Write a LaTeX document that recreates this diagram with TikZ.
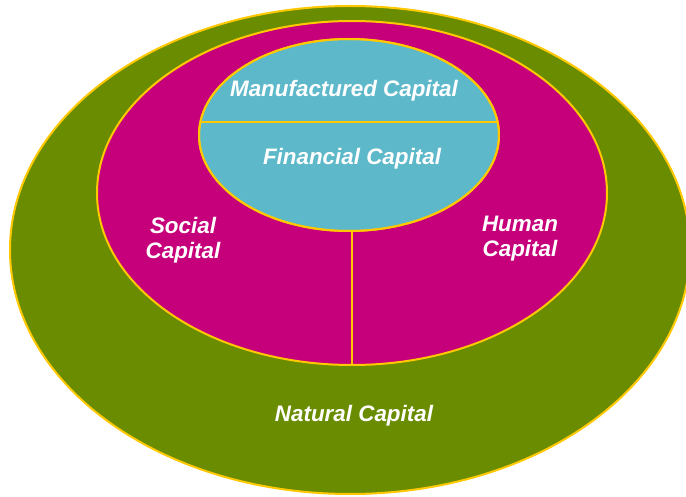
\documentclass[tikz,border=0pt]{standalone}
\usepackage{fontspec}
\setmainfont{Liberation Sans}
\usetikzlibrary{shapes.geometric}
\definecolor{natgreen}{HTML}{6A8C00}
\definecolor{socmag}{HTML}{C6007A}
\definecolor{finblue}{HTML}{5DB8C9}
\definecolor{rimgold}{HTML}{FFC800}
\tikzset{
  ring/.style={ellipse, draw=rimgold, line width=2pt, inner sep=0pt},
  divider/.style={draw=rimgold, line width=2pt},
  lbl/.style={text=white, font=\fontsize{22.4pt}{25pt}\selectfont\bfseries\itshape, align=center, inner sep=0pt}
}
\begin{document}
\begin{tikzpicture}[x=1pt,y=-1pt]
\useasboundingbox (0,0) rectangle (686,497);
\node[ring, fill=natgreen, minimum width=680pt, minimum height=488pt] (nat) at (350,250) {};
\node[ring, fill=socmag, minimum width=510pt, minimum height=344pt] (mag) at (352,193) {};
\node[ring, fill=finblue, minimum width=300pt, minimum height=192pt] (blue) at (349,135) {};
\draw[divider] (blue.south -| mag.south) -- (mag.south);
\begin{scope}
\clip (349,135) ellipse [x radius=150pt, y radius=96pt];
\coordinate (hl) at (190,122);
\coordinate (hr) at (510,122);
\draw[divider] (hl) -- (hr);
\end{scope}
\node[ring, fill=none, minimum width=300pt, minimum height=192pt] (blueedge) at (349,135) {};
\node[lbl] (manu) at (344,91) {Manufactured Capital};
\node[lbl] (fin) at (352,159) {Financial Capital};
\node[lbl] (soc) at (183,240) {Social\\Capital};
\node[lbl] (hum) at (520,239) {Human\\Capital};
\node[lbl] (natl) at (354,416) {Natural Capital};
\end{tikzpicture}
\end{document}
